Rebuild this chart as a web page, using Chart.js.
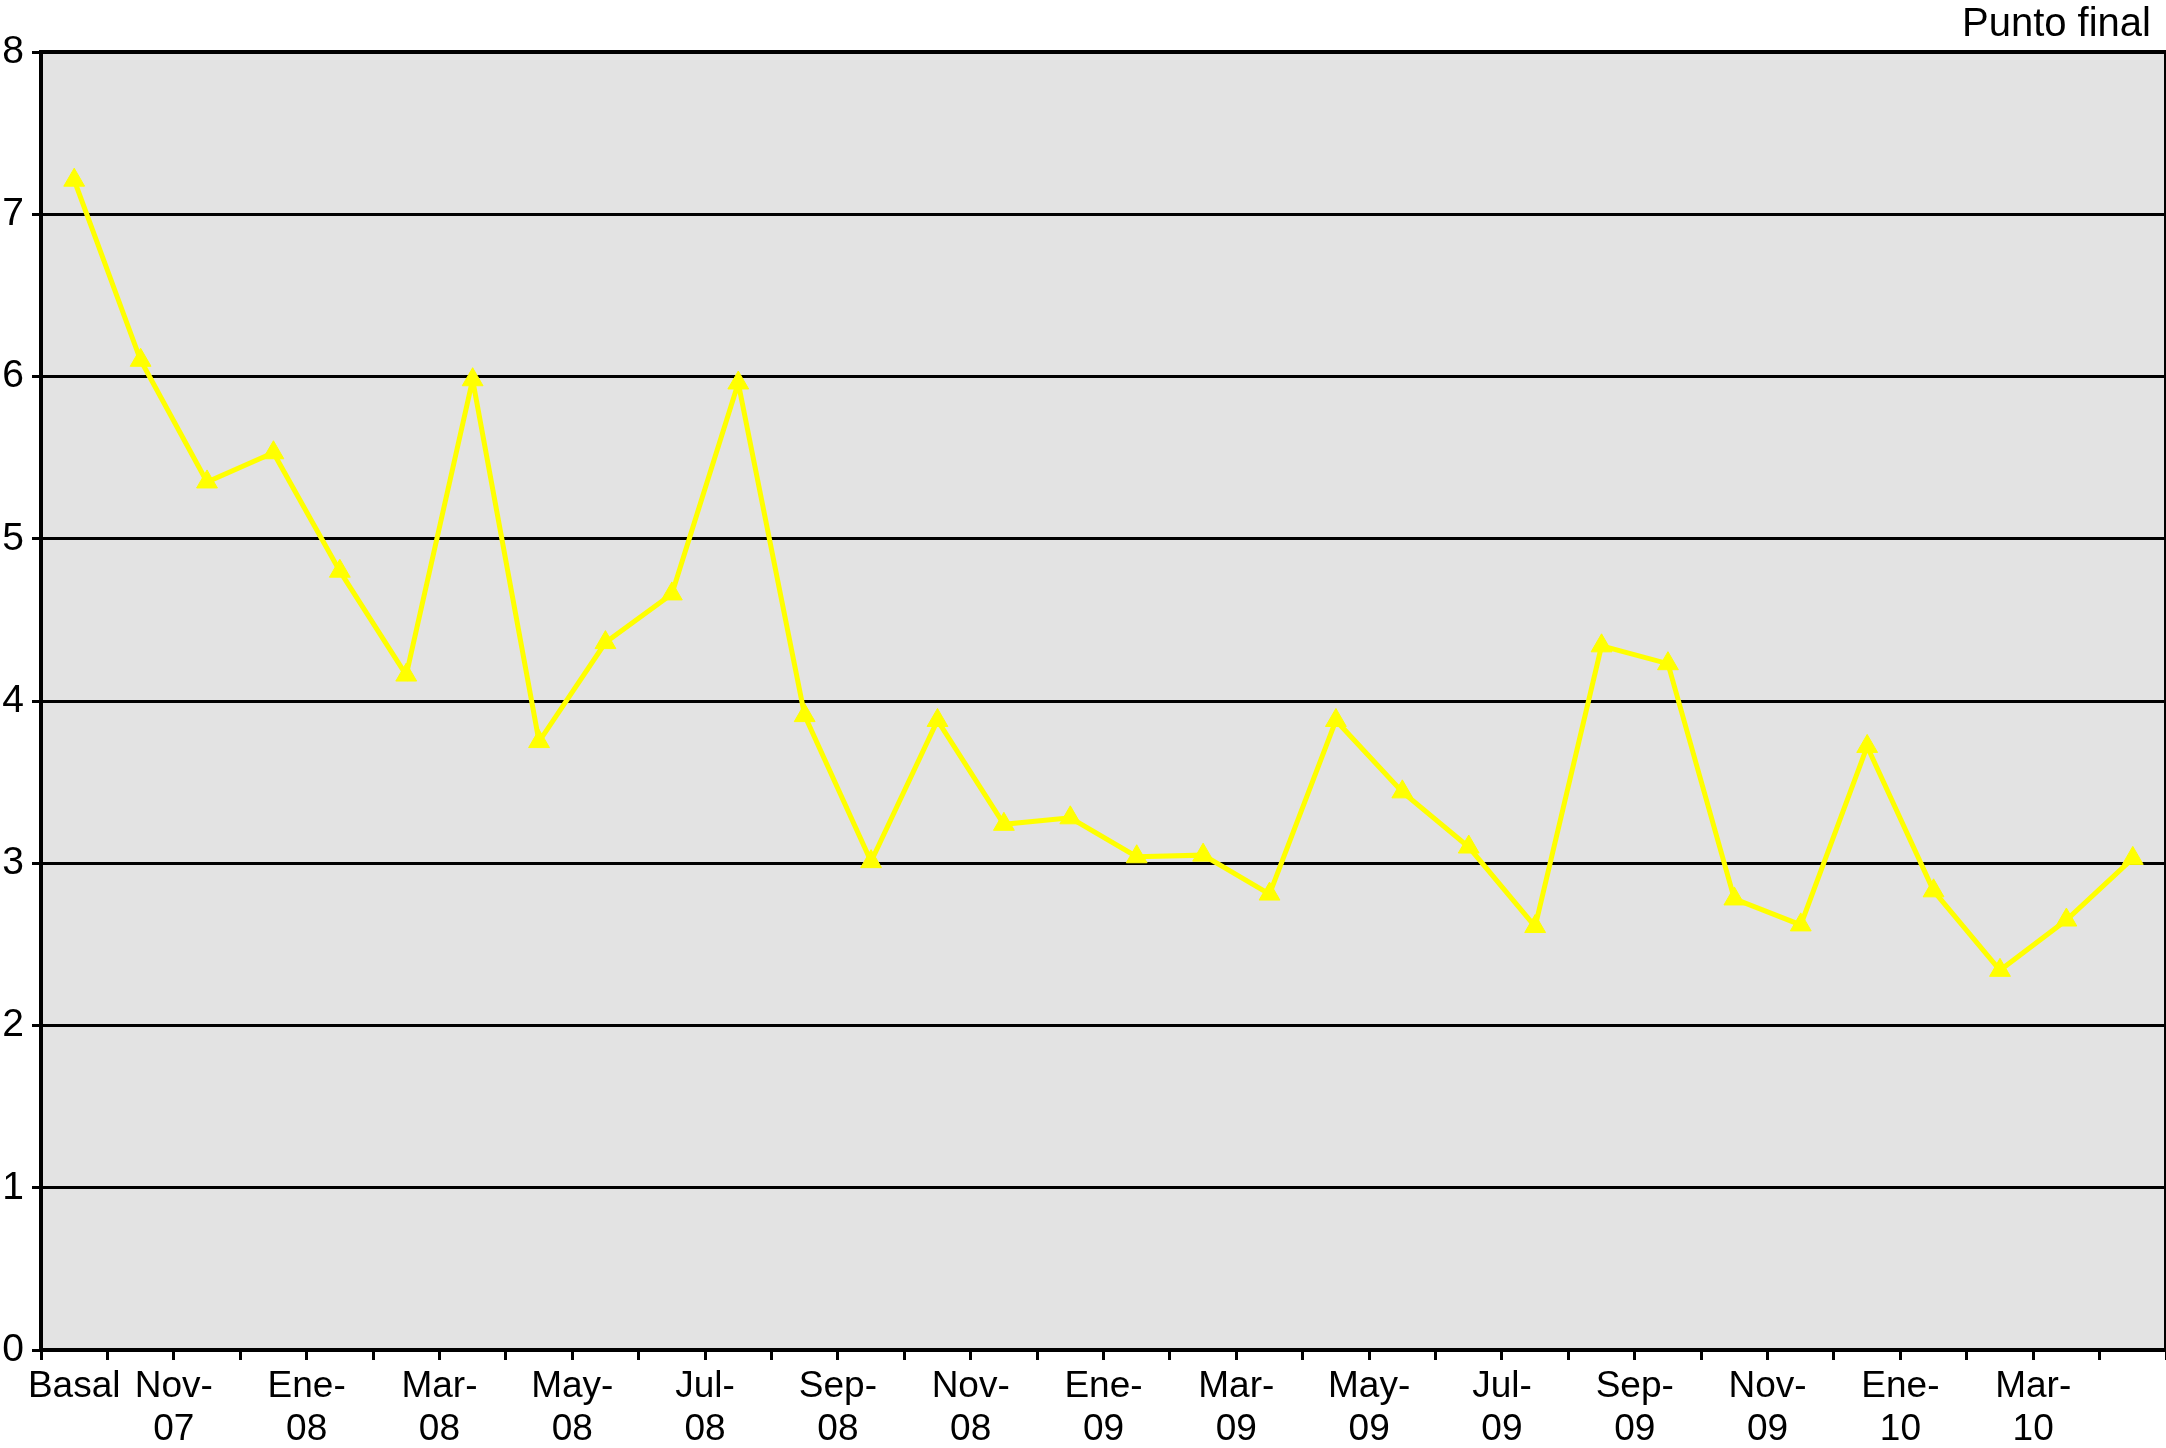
<!DOCTYPE html>
<html>
<head>
<meta charset="utf-8">
<script src="https://cdn.jsdelivr.net/npm/chart.js@4/dist/chart.umd.min.js"></script>
<style>
  html, body { margin: 0; padding: 0; background: #fff; }
  #wrap { width: 2166px; height: 1448px; position: relative; }
</style>
</head>
<body>
<div id="wrap"><canvas id="myChart"></canvas></div>
<script>
// 32 measurements: Basal plus monthly points
const values = [7.21, 6.10, 5.35, 5.53, 4.80, 4.16, 5.98, 3.75, 4.36, 4.66,
                5.96, 3.91, 3.01, 3.88, 3.24, 3.28, 3.04, 3.05, 2.81, 3.88,
                3.44, 3.10, 2.61, 4.34, 4.23, 2.78, 2.62, 3.72, 2.83, 2.34,
                2.65, 3.03];
const tickLabels = ['Basal', 'Nov-07', 'Ene-08', 'Mar-08', 'May-08', 'Jul-08',
                    'Sep-08', 'Nov-08', 'Ene-09', 'Mar-09', 'May-09', 'Jul-09',
                    'Sep-09', 'Nov-09', 'Ene-10', 'Mar-10'];
const yTicks = [0, 1, 2, 3, 4, 5, 6, 7, 8];
const titleText = 'Punto final';

const FONT = '"Liberation Sans", Arial, sans-serif';
const n = values.length;

// label positions: Basal on its point, the rest on the boundary between two months
const labelAt = {};
tickLabels.forEach((lab, k) => {
    const pos = k === 0 ? 0 : 2 * k - 0.5;
    labelAt[pos] = lab;
});
const xTickVals = [0];
for (let b = -0.5; b <= n - 0.5; b += 1) xTickVals.push(b);
xTickVals.sort((a, b) => a - b);

const plotFrame = {
    id: 'plotFrame',
    beforeDraw(chart) {
        const a = chart.chartArea, ctx = chart.ctx;
        ctx.save();
        ctx.fillStyle = '#e3e3e3';
        ctx.fillRect(a.left, a.top, a.right - a.left, a.bottom - a.top);
        ctx.restore();
    },
    beforeDatasetsDraw(chart) {
        const a = chart.chartArea, ctx = chart.ctx;
        ctx.save();
        ctx.strokeStyle = '#000';
        ctx.lineWidth = 4;
        ctx.beginPath();
        ctx.moveTo(a.left, a.top);
        ctx.lineTo(a.right, a.top);
        ctx.lineTo(a.right, a.bottom);
        ctx.stroke();
        ctx.restore();
    },
    afterDraw(chart) {
        const ctx = chart.ctx;
        ctx.save();
        ctx.fillStyle = '#000';
        ctx.font = '40px ' + FONT;
        ctx.textAlign = 'right';
        ctx.textBaseline = 'alphabetic';
        ctx.fillText(titleText, 2151, 36);
        ctx.restore();
    }
};

const data = {
    datasets: [{
        label: titleText,
        data: values.map((v, i) => ({ x: i, y: v })),
        borderColor: '#ffff00',
        backgroundColor: '#ffff00',
        borderWidth: 5,
        pointStyle: 'triangle',
        pointRadius: 12,
        pointBorderWidth: 1,
        pointBackgroundColor: '#ffff00',
        pointBorderColor: '#ffff00',
        tension: 0
    }]
};

const config = {
    type: 'line',
    data: data,
    options: {
        responsive: true,
        maintainAspectRatio: false,
        animation: false,
        layout: { autoPadding: false, padding: { top: 52, right: -1, left: 0, bottom: 0 } },
        plugins: {
            legend: { display: false },
            tooltip: { enabled: false },
            title: { display: false }
        },
        scales: {
            x: {
                type: 'linear',
                min: -0.5,
                max: n - 0.5,
                afterBuildTicks(scale) {
                    scale.ticks = xTickVals.map(v => ({ value: v }));
                },
                afterFit(scale) {
                    scale.height = 98;
                    scale.paddingLeft = 0;
                    scale.paddingRight = 0;
                },
                ticks: {
                    autoSkip: false,
                    maxRotation: 0,
                    minRotation: 0,
                    padding: 6,
                    color: '#000',
                    font: { family: FONT, size: 37, lineHeight: 1.15 },
                    callback(value) {
                        const lab = labelAt[value];
                        if (!lab) return '';
                        if (lab === 'Basal') return lab;
                        const parts = lab.split('-');
                        return [parts[0] + '-', parts[1]];
                    }
                },
                grid: {
                    drawOnChartArea: false,
                    drawTicks: true,
                    tickLength: 10,
                    tickWidth: 3,
                    tickColor: ctx => (ctx.tick && ctx.tick.value === 0) ? 'rgba(0,0,0,0)' : '#000'
                },
                border: { display: true, color: '#000', width: 4 }
            },
            y: {
                min: 0,
                max: 8,
                afterBuildTicks(scale) {
                    scale.ticks = yTicks.map(v => ({ value: v }));
                },
                afterFit(scale) {
                    scale.width = 41;
                    scale.paddingTop = 0;
                    scale.paddingBottom = 0;
                },
                ticks: {
                    padding: 8,
                    color: '#000',
                    font: { family: FONT, size: 39 }
                },
                grid: {
                    color: '#000',
                    lineWidth: 3,
                    drawTicks: true,
                    tickLength: 9,
                    tickWidth: 3,
                    tickColor: '#000'
                },
                border: { display: true, color: '#000', width: 4 }
            }
        }
    },
    plugins: [plotFrame]
};

new Chart(document.getElementById('myChart'), config);
</script>
</body>
</html>
